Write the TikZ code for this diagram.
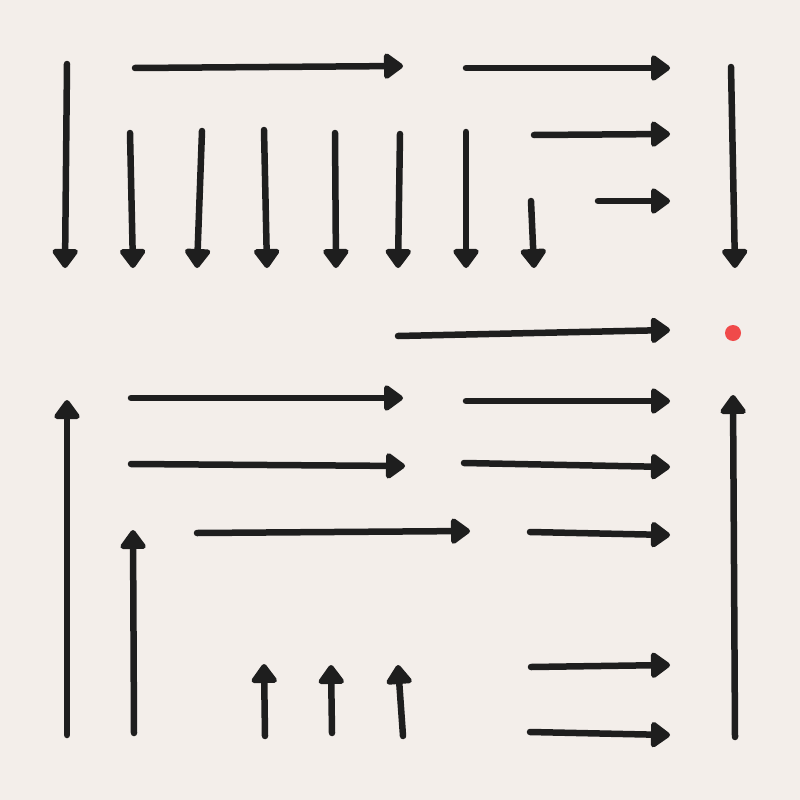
\documentclass[tikz,border=0pt]{standalone}
\usetikzlibrary{arrows.meta}

\definecolor{paperColor}{HTML}{F3EEEA}
\definecolor{inkColor}{HTML}{1E1E1E}
\definecolor{dotColor}{HTML}{F04A4A}

\tikzset{
    ink/.style={draw=inkColor, line width=6.5pt, line cap=round,
        -{Triangle[length=21pt,width=29pt,round]}}
}

\begin{document}
\begin{tikzpicture}[x=1pt,y=-1pt]

    % paper
    \fill[paperColor] (0,0) rectangle (800,800);

    % downward arrows
    \draw[ink] (67,64) -- (65,268);
    \draw[ink] (130,133) -- (133,268);
    \draw[ink] (202,131) -- (197,268);
    \draw[ink] (264,130) -- (267,268);
    \draw[ink] (335,133) -- (336,268);
    \draw[ink] (400,134) -- (398,268);
    \draw[ink] (466,132) -- (466,268);
    \draw[ink] (531,201) -- (534,268);
    \draw[ink] (731,67) -- (735,268);

    % rightward arrows
    \draw[ink] (135,68) -- (403,66);
    \draw[ink] (466,68) -- (670,68);
    \draw[ink] (534,135) -- (670,134);
    \draw[ink] (598,201) -- (670,201);
    \draw[ink] (398,336) -- (670,330);
    \draw[ink] (131,398) -- (403,398);
    \draw[ink] (466,401) -- (670,401);
    \draw[ink] (131,464) -- (405,466);
    \draw[ink] (464,463) -- (670,467);
    \draw[ink] (197,533) -- (470,531);
    \draw[ink] (530,532) -- (670,535);
    \draw[ink] (531,667) -- (670,665);
    \draw[ink] (530,732) -- (670,735);

    % upward arrows
    \draw[ink] (67,735) -- (67,400);
    \draw[ink] (134,733) -- (133,530);
    \draw[ink] (265,736) -- (264,664);
    \draw[ink] (332,733) -- (331,665);
    \draw[ink] (403,736) -- (398,665);
    \draw[ink] (735,737) -- (733,395);

    % goal
    \fill[dotColor] (733,333) circle (8);

\end{tikzpicture}
\end{document}
